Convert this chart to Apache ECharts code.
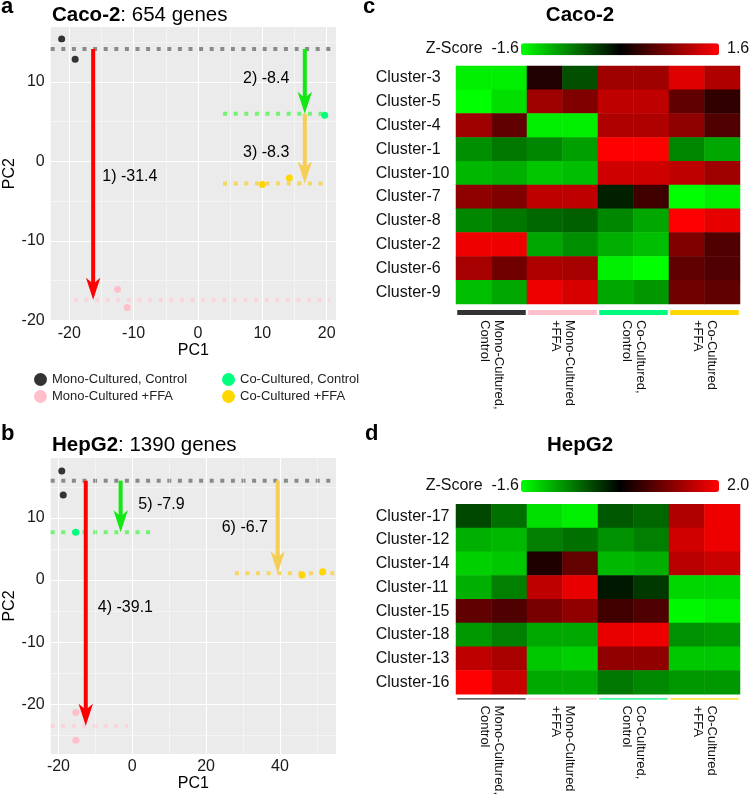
<!DOCTYPE html>
<html><head><meta charset="utf-8">
<script src="https://cdn.jsdelivr.net/npm/echarts@6/dist/echarts.min.js"></script>
<style>html,body{margin:0;padding:0;background:#fff}#chart{width:749px;height:794px}</style>
</head><body><div id="chart"></div>
<script>
// ---------------- DATA ----------------
const groups = ['Mono-Cultured, Control', 'Mono-Cultured +FFA', 'Co-Cultured, Control', 'Co-Cultured +FFA'];
const groupAxisLabels = ['Mono-Cultured,\nControl', 'Mono-Cultured\n+FFA', 'Co-Cultured,\nControl', 'Co-Cultured\n+FFA'];
const sampleColumns = ['MC-1', 'MC-2', 'MF-1', 'MF-2', 'CC-1', 'CC-2', 'CF-1', 'CF-2'];

// Panel a: Caco-2 PCA, points [PC1, PC2]
const cacoMonoCtrl = [[-21.2, 15.4], [-19.1, 12.85]];
const cacoMonoFFA = [[-12.5, -16.1], [-11.0, -18.4]];
const cacoCoCtrl = [[19.7, 5.8]];
const cacoCoFFA = [[10.0, -2.9], [14.2, -2.1]];
// group mean lines: [PC1 from, PC1 to, PC2, group index (-1 = reference)]
const cacoMeanLines = [[-22.9, 21.45, 14.14, -1], [-19.3, 20.5, -17.4, 1], [3.9, 19.7, 6.0, 2], [3.9, 20.05, -2.8, 3]];
// shifts: [PC1, PC2 from, PC2 to, group index]
const cacoShifts = [[-16.3, 14.14, -17.4, 1], [16.6, 14.14, 6.0, 2], [16.6, 6.0, -2.8, 3]];
const cacoShiftLabels = [[-10.6, -1.9, '1) -31.4'], [10.6, 10.4, '2) -8.4'], [10.6, 1.1, '3) -8.3']];
const cacoXRange = [-22.9, 21.45], cacoYRange = [-20.0, 16.9];
const cacoXTicks = [-20, -10, 0, 10, 20], cacoYTicks = [-20, -10, 0, 10];
const cacoXMinor = [-15, -5, 5, 15], cacoYMinor = [-15, -5, 5, 15];

// Panel b: HepG2 PCA
const hepMonoCtrl = [[-19.1, 17.55], [-18.7, 13.7]];
const hepMonoFFA = [[-15.3, -21.3], [-15.3, -25.8]];
const hepCoCtrl = [[-15.3, 7.7]];
const hepCoFFA = [[46.0, 0.8], [51.6, 1.35]];
const hepMeanLines = [[-22.1, 55.2, 16.0, -1], [-22.1, 5.6, 7.7, 2], [-22.1, -1.2, -23.45, 1], [27.8, 55.2, 1.1, 3]];
const hepShifts = [[-12.6, 16.0, -23.45, 1], [-3.15, 16.0, 7.7, 2], [39.4, 16.0, 1.1, 3]];
const hepShiftLabels = [[7.9, 12.1, '5) -7.9'], [30.5, 8.4, '6) -6.7'], [-1.85, -4.5, '4) -39.1']];
const hepXRange = [-22.1, 55.2], hepYRange = [-28.0, 19.65];
const hepXTicks = [-20, 0, 20, 40], hepYTicks = [-20, -10, 0, 10];
const hepXMinor = [-10, 10, 30, 50], hepYMinor = [-25, -15, -5, 5, 15];

// Panel c: Caco-2 heatmap (Z-scores)
const cacoClusters = ['Cluster-3', 'Cluster-5', 'Cluster-4', 'Cluster-1', 'Cluster-10', 'Cluster-7', 'Cluster-8', 'Cluster-2', 'Cluster-6', 'Cluster-9'];
const cacoZ = [
  [-1.5, -1.5, 0.2, -0.5, 1.0, 1.0, 1.4, 1.1],
  [-1.6, -1.4, 1.0, 0.8, 1.2, 1.2, 0.6, 0.3],
  [1.0, 0.6, -1.5, -1.5, 1.1, 1.1, 0.9, 0.5],
  [-0.9, -0.75, -0.85, -1.0, 1.6, 1.6, -0.85, -1.05],
  [-1.15, -1.1, -1.25, -1.2, 1.3, 1.3, 1.2, 1.0],
  [0.9, 0.8, 1.2, 1.2, -0.2, 0.4, -1.6, -1.5],
  [-0.85, -0.75, -0.65, -0.6, -0.85, -1.05, 1.6, 1.45],
  [1.5, 1.5, -1.05, -0.9, -1.1, -1.2, 0.8, 0.5],
  [1.05, 0.7, 1.1, 1.05, -1.5, -1.6, 0.6, 0.5],
  [-1.2, -1.05, 1.5, 1.35, -1.05, -0.95, 0.7, 0.6]
];
const cacoZRange = [-1.6, 1.6];

// Panel d: HepG2 heatmap (Z-scores)
const hepClusters = ['Cluster-17', 'Cluster-12', 'Cluster-14', 'Cluster-11', 'Cluster-15', 'Cluster-18', 'Cluster-13', 'Cluster-16'];
const hepZ = [
  [-0.31, -0.59, -1.38, -1.49, -0.42, -0.53, 1.44, 1.89],
  [-1.04, -1.1, -0.7, -0.59, -0.82, -0.7, 1.67, 1.89],
  [-1.27, -1.21, 0.41, 0.9, -1.1, -1.04, 1.5, 1.61],
  [-1.04, -0.7, 1.55, 1.84, 0.03, -0.2, -1.32, -1.32],
  [0.88, 0.76, 1.05, 1.22, 0.65, 0.76, -1.55, -1.49],
  [-0.87, -0.7, -0.99, -0.99, 1.84, 1.89, -0.82, -0.87],
  [1.55, 1.39, -1.21, -1.27, 1.22, 1.22, -1.21, -1.21],
  [2.0, 1.61, -0.99, -0.99, -0.64, -0.76, -0.87, -0.87]
];
const hepZRange = [-1.6, 2.0];

// ---------------- STYLE ----------------
const FONT = '"Liberation Sans", Arial, sans-serif';
const pointColors = ['#333333', '#ffc0cb', '#00ff7f', '#ffd700'];
const barColors = ['#333333', '#ffc0cb', '#00fa80', '#ffd700'];
const meanLineColors = {'-1': '#8a8a8a', '0': '#8a8a8a', '1': '#fdd3da', '2': '#74f274', '3': '#f6d562'};
const arrowColors = {'1': '#ff0000', '2': '#12e812', '3': '#f5cf55'};
const heatColors = ['#00ff00', '#000000', '#ff0000'];

function toHeat(matrix) {
  const out = [];
  matrix.forEach((row, r) => row.forEach((v, c) => out.push([c, r, v])));
  return out;
}
function tickFmt(step) { return v => (Math.abs(v / step - Math.round(v / step)) < 1e-6 ? String(v) : ''); }

function scatterAxes(gridIndex, xr, yr, xt, yt, xGap, yGap, xStep) {
  const x = {
    type: 'value', gridIndex, min: xr[0], max: xr[1], name: 'PC1', nameLocation: 'middle', nameGap: xGap,
    nameTextStyle: {fontSize: 16, color: '#000', fontFamily: FONT},
    axisLine: {show: false}, axisTick: {show: false, customValues: xt},
    axisLabel: {customValues: xt, fontSize: 16, color: '#1a1a1a', margin: 5, formatter: tickFmt(xStep), fontFamily: FONT},
    splitLine: {show: true, lineStyle: {color: '#ffffff', width: 1.1}}
  };
  const y = {
    type: 'value', gridIndex, min: yr[0], max: yr[1], name: 'PC2', nameLocation: 'middle', nameGap: yGap, nameRotate: 90,
    nameTextStyle: {fontSize: 16, color: '#000', fontFamily: FONT},
    axisLine: {show: false}, axisTick: {show: false, customValues: yt},
    axisLabel: {customValues: yt, fontSize: 16, color: '#1a1a1a', margin: 6, formatter: tickFmt(10), fontFamily: FONT},
    splitLine: {show: true, lineStyle: {color: '#ffffff', width: 1.1}}
  };
  return [x, y];
}

const [ax0, ay0] = scatterAxes(0, cacoXRange, cacoYRange, cacoXTicks, cacoYTicks, 22, 26, 10);
const [ax1, ay1] = scatterAxes(1, hepXRange, hepYRange, hepXTicks, hepYTicks, 20, 26, 20);

function heatXAxis(gridIndex) {
  return {type: 'category', gridIndex, data: sampleColumns, axisLine: {show: false}, axisTick: {show: false}, axisLabel: {show: false}, splitLine: {show: false}};
}
function heatYAxis(gridIndex, names) {
  return {type: 'category', gridIndex, data: names, inverse: true, axisLine: {show: false}, axisTick: {show: false},
    axisLabel: {align: 'left', margin: 80.3, fontSize: 16, color: '#111', fontFamily: FONT}, splitLine: {show: false}};
}
function groupXAxis(gridIndex, margin) {
  return {type: 'category', gridIndex, data: groupAxisLabels, axisLine: {show: false}, axisTick: {show: false},
    axisLabel: {rotate: -90, margin, fontSize: 13, lineHeight: 13.5, color: '#111', interval: 0, fontFamily: FONT}};
}
function groupYAxis(gridIndex) { return {type: 'value', gridIndex, min: 0, max: 1, show: false}; }

function pointSeries(name, data, colorIdx, xi) {
  return {type: 'scatter', name, xAxisIndex: xi, yAxisIndex: xi, data, symbolSize: 7, z: 4,
    itemStyle: {color: pointColors[colorIdx], opacity: 1}, emphasis: {disabled: true}, silent: true};
}
function minorSeries(xi, xm, ym) {
  return {type: 'line', xAxisIndex: xi, yAxisIndex: xi, data: [], z: 1, silent: true,
    markLine: {silent: true, symbol: ['none', 'none'], label: {show: false}, animation: false,
      lineStyle: {color: 'rgba(255,255,255,0.75)', width: 0.6, type: 'solid'},
      emphasis: {disabled: true},
      data: xm.map(v => ({xAxis: v})).concat(ym.map(v => ({yAxis: v})))}};
}
function meanLineSeries(xi, data) {
  return {type: 'custom', xAxisIndex: xi, yAxisIndex: xi, data, z: 2, silent: true,
    encode: {x: [0, 1], y: 2},
    renderItem(params, api) {
      const p0 = api.coord([api.value(0), api.value(2)]);
      const p1 = api.coord([api.value(1), api.value(2)]);
      return {type: 'line', shape: {x1: p0[0], y1: p0[1], x2: p1[0], y2: p1[1]},
        style: {stroke: meanLineColors[String(api.value(3))], lineWidth: 4, lineDash: [4, 6.6]}};
    }};
}
function arrowSeries(xi, data) {
  return {type: 'custom', xAxisIndex: xi, yAxisIndex: xi, data, z: 5, silent: true,
    encode: {x: 0, y: [1, 2]},
    renderItem(params, api) {
      const a = api.coord([api.value(0), api.value(1)]);
      const b = api.coord([api.value(0), api.value(2)]);
      const col = arrowColors[String(api.value(3))];
      const L = 22, W = 7.2, N = 6;
      return {type: 'group', children: [
        {type: 'line', shape: {x1: a[0], y1: a[1], x2: b[0], y2: b[1] - L + N + 1}, style: {stroke: col, lineWidth: 4}},
        {type: 'polygon', shape: {points: [[b[0], b[1]], [b[0] - W, b[1] - L], [b[0], b[1] - L + N], [b[0] + W, b[1] - L]]}, style: {fill: col}}
      ]};
    }};
}
function labelSeries(xi, data) {
  return {type: 'scatter', xAxisIndex: xi, yAxisIndex: xi, data, symbolSize: 1, z: 6, silent: true,
    itemStyle: {color: 'rgba(0,0,0,0)', opacity: 1},
    label: {show: true, position: 'inside', formatter: p => p.value[2], fontSize: 16, color: '#000', opacity: 1, fontFamily: FONT}};
}
function groupBarSeries(xi) {
  return {type: 'bar', xAxisIndex: xi, yAxisIndex: xi, barCategoryGap: '3.5%', silent: true,
    data: groups.map((g, i) => ({value: 1, itemStyle: {color: barColors[i]}}))};
}

const series = [
  pointSeries(groups[0], cacoMonoCtrl, 0, 0),
  pointSeries(groups[1], cacoMonoFFA, 1, 0),
  pointSeries(groups[2], cacoCoCtrl, 2, 0),
  pointSeries(groups[3], cacoCoFFA, 3, 0),
  pointSeries(groups[0], hepMonoCtrl, 0, 1),
  pointSeries(groups[1], hepMonoFFA, 1, 1),
  pointSeries(groups[2], hepCoCtrl, 2, 1),
  pointSeries(groups[3], hepCoFFA, 3, 1),
  minorSeries(0, cacoXMinor, cacoYMinor),
  minorSeries(1, hepXMinor, hepYMinor),
  meanLineSeries(0, cacoMeanLines),
  meanLineSeries(1, hepMeanLines),
  arrowSeries(0, cacoShifts),
  arrowSeries(1, hepShifts),
  labelSeries(0, cacoShiftLabels),
  labelSeries(1, hepShiftLabels),
  {type: 'heatmap', xAxisIndex: 2, yAxisIndex: 2, data: toHeat(cacoZ), silent: true, emphasis: {disabled: true}},
  {type: 'heatmap', xAxisIndex: 3, yAxisIndex: 3, data: toHeat(hepZ), silent: true, emphasis: {disabled: true}},
  groupBarSeries(4),
  groupBarSeries(5)
];

function panelLetter(t, left, top) { return {text: t, left, top, padding: 0, textStyle: {fontSize: 22, fontWeight: 'bold', color: '#000', fontFamily: FONT}}; }
function plotTitle(bold, rest, left, top) {
  return {text: '{b|' + bold + '}' + rest, left, top, padding: 0,
    textStyle: {fontSize: 20.5, fontWeight: 'normal', color: '#000', fontFamily: FONT,
      rich: {b: {fontSize: 20.5, fontWeight: 'bold', color: '#000', fontFamily: FONT}}}};
}
function heatTitle(t, top) { return {text: t, left: 580, textAlign: 'center', top, padding: 0, textStyle: {fontSize: 20.5, fontWeight: 'bold', color: '#000', fontFamily: FONT}}; }
function scaleText(t, left, top, align) {
  return {text: t, left, top, textAlign: align, padding: 0, textStyle: {fontSize: 16, fontWeight: 'normal', color: '#111', fontFamily: FONT}};
}

function zScale(seriesIndex, range, top) {
  return {type: 'continuous', seriesIndex, min: range[0], max: range[1], orient: 'horizontal', left: 521, top,
    itemWidth: 12, itemHeight: 198, calculable: false, hoverLink: false, padding: 0, text: null,
    inRange: {color: heatColors}};
}

const option = {
  animation: false,
  backgroundColor: '#ffffff',
  textStyle: {fontFamily: FONT},
  title: [
    panelLetter('a', 1, -4), plotTitle('Caco-2', ': 654 genes', 52, 5),
    panelLetter('b', 1, 423), plotTitle('HepG2', ': 1390 genes', 52, 435),
    panelLetter('c', 363, -4), heatTitle('Caco-2', 5),
    panelLetter('d', 365, 423), heatTitle('HepG2', 435),
    scaleText('Z-Score  ' + cacoZRange[0].toFixed(1), 519, 41, 'right'),
    scaleText(cacoZRange[1].toFixed(1), 727, 41, 'left'),
    scaleText('Z-Score  ' + hepZRange[0].toFixed(1), 519, 478, 'right'),
    scaleText(hepZRange[1].toFixed(1), 727, 478, 'left')
  ],
  legend: [
    {orient: 'vertical', left: 34, top: 373, itemGap: 4, itemWidth: 13, itemHeight: 13, icon: 'circle', padding: 0,
      data: [groups[0], groups[1]], selectedMode: false, textStyle: {fontSize: 13, color: '#222', fontFamily: FONT}},
    {orient: 'vertical', left: 222, top: 373, itemGap: 4, itemWidth: 13, itemHeight: 13, icon: 'circle', padding: 0,
      data: [groups[2], groups[3]], selectedMode: false, textStyle: {fontSize: 13, color: '#222', fontFamily: FONT}}
  ],
  grid: [
    {left: 50.7, top: 27, width: 285.3, height: 293.3, show: true, backgroundColor: '#ebebeb', borderWidth: 0},
    {left: 50.7, top: 458, width: 285.3, height: 296, show: true, backgroundColor: '#ebebeb', borderWidth: 0},
    {left: 456, top: 66, width: 284, height: 238},
    {left: 456, top: 504.3, width: 284, height: 190},
    {left: 456, top: 310, width: 284, height: 5},
    {left: 456, top: 698.3, width: 284, height: 5.2}
  ],
  xAxis: [ax0, ax1, heatXAxis(2), heatXAxis(3), groupXAxis(4, 5), groupXAxis(5, 6)],
  yAxis: [ay0, ay1, heatYAxis(2, cacoClusters), heatYAxis(3, hepClusters), groupYAxis(4), groupYAxis(5)],
  visualMap: [zScale(16, cacoZRange, 43.3), zScale(17, hepZRange, 480)],
  series
};

const chart = echarts.init(document.getElementById('chart'), null, {renderer: 'canvas'});
chart.setOption(option);
</script>
</body></html>
